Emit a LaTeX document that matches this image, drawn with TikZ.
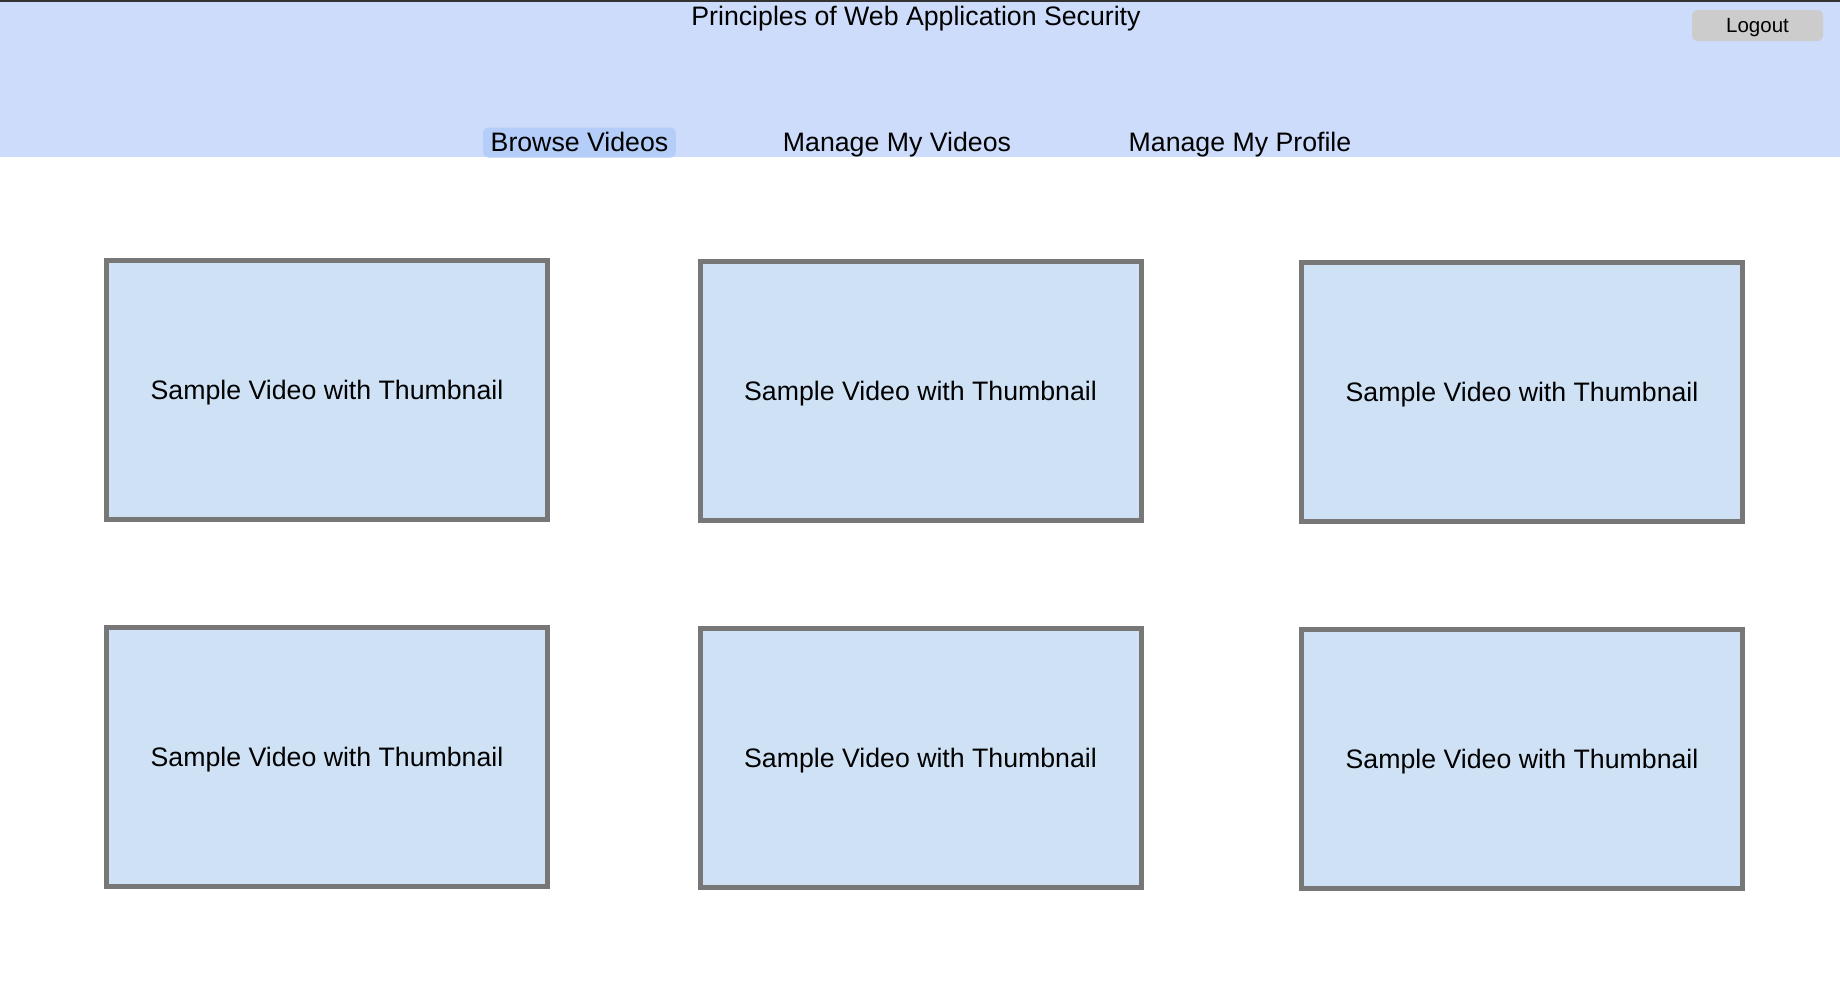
\documentclass[tikz,border=0pt]{standalone}
\usepackage{fontspec}
\setmainfont{Liberation Sans}
\usetikzlibrary{calc}
\definecolor{bandblue}{HTML}{CCDCFA}
\definecolor{tabblue}{HTML}{B4CDF9}
\definecolor{thumbblue}{HTML}{CFE2F5}
\definecolor{thumbline}{HTML}{777777}
\definecolor{btngray}{HTML}{CCCCCC}
\begin{document}
\begin{tikzpicture}[x=1pt,y=-1pt,
    big/.style={font=\fontsize{26.7}{32}\selectfont},
    nav/.style={big,anchor=base,text height=21,text depth=4,inner xsep=7.5,inner ysep=2.5},
    thumb/.style={big,draw=thumbline,line width=5,fill=thumbblue,text depth=0,minimum width=441,minimum height=259}]
    \useasboundingbox (0,0) rectangle (1840,1004);
    \fill[white](0,0)rectangle(1840,1004);
    \fill[bandblue](0,0)rectangle(1840,157);
    \draw[line width=2,black!80](0,1)--(1840,1);
    \node[big,anchor=base](title)at(916,25){Principles of Web Application Security};
    \node[fill=btngray,rounded corners=6,minimum width=131,minimum height=31,text depth=0,
      font=\fontsize{20.5}{24}\selectfont](logout)at(1757.5,25.5){Logout};
    \node[nav,fill=tabblue,rounded corners=5](browse)at(579.5,151){Browse Videos};
    \node[nav](myvideos)at(897,151){Manage My Videos};
    \node[nav](profile)at(1240,151){Manage My Profile};
    \node[thumb](vid1)at(327,390){Sample Video with Thumbnail};
    \node[thumb](vid2)at(920.5,391){Sample Video with Thumbnail};
    \node[thumb](vid3)at(1522,392){Sample Video with Thumbnail};
    \node[thumb](vid4)at(327,757){Sample Video with Thumbnail};
    \node[thumb](vid5)at(920.5,758){Sample Video with Thumbnail};
    \node[thumb](vid6)at(1522,759){Sample Video with Thumbnail};
  \end{tikzpicture}
\end{document}
